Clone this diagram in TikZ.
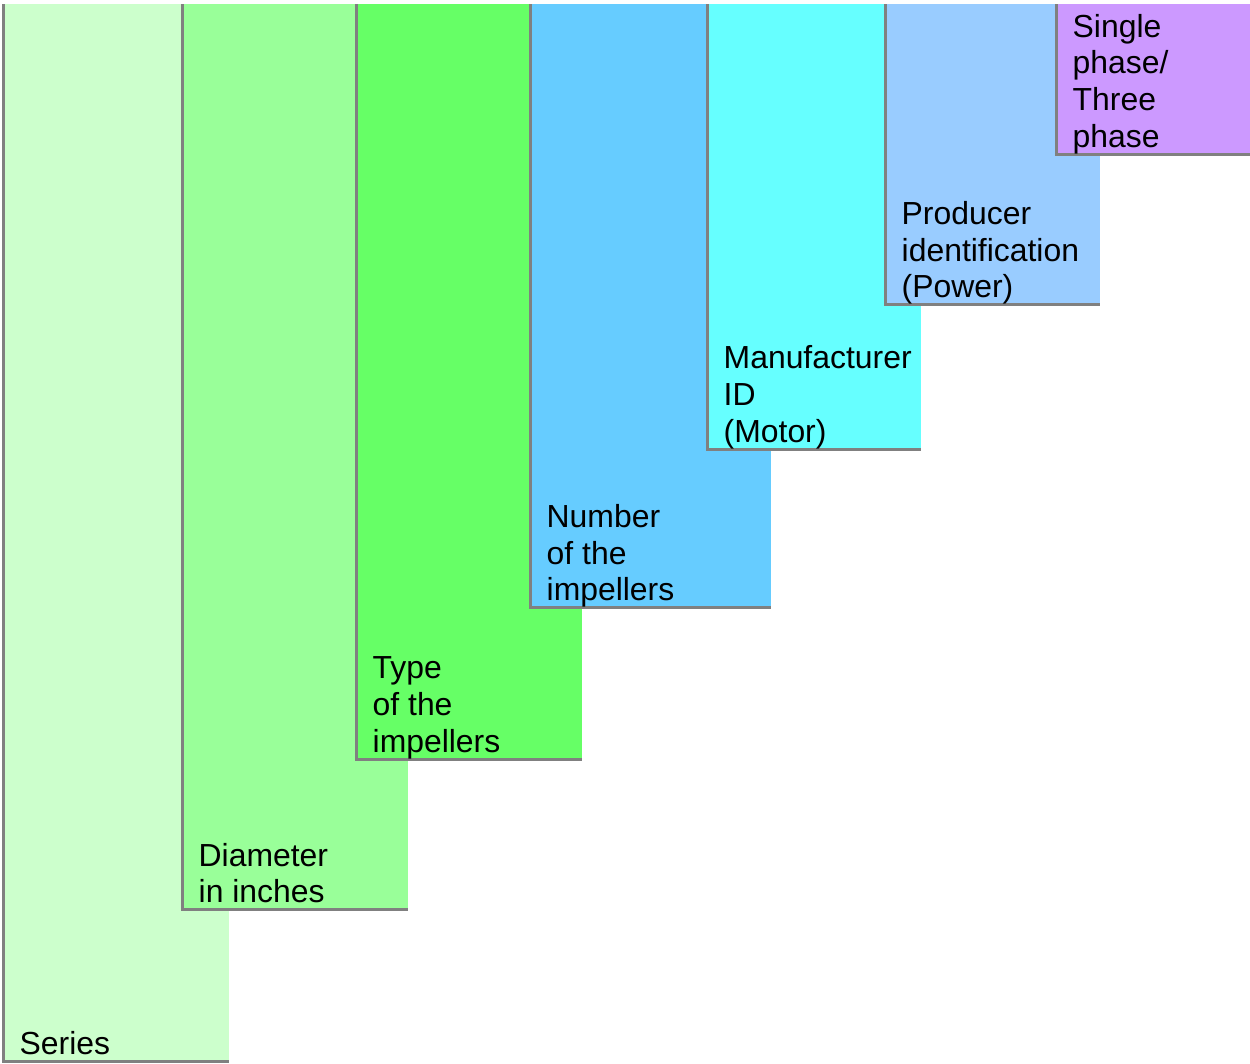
\documentclass[tikz,border=0pt]{standalone}
\usepackage{fontspec}
\setmainfont{Liberation Sans}
\definecolor{edgegray}{HTML}{808080}
\definecolor{seriesfill}{HTML}{CCFFCC}
\definecolor{diamfill}{HTML}{99FF99}
\definecolor{typefill}{HTML}{66FF66}
\definecolor{numfill}{HTML}{66CCFF}
\definecolor{makerfill}{HTML}{66FFFF}
\definecolor{prodfill}{HTML}{99CCFF}
\definecolor{phasefill}{HTML}{CC99FF}

\begin{document}
\begin{tikzpicture}[x=1pt,y=-1pt,edge/.style={draw=edgegray,line width=3pt},label/.style={anchor=south west,inner sep=0pt,align=left,text depth=0pt,font=\fontsize{31.9}{36.7}\selectfont}]
\useasboundingbox (0,0) rectangle (1250,1063);
% columns, left to right
\fill[seriesfill] (3.5,4) rectangle (229,1061);
\draw[edge] (3.5,4)--(3.5,1061)--(229,1061);
\node[label] (series) at (19.5,1054.5) {Series};
\fill[diamfill] (182.5,4) rectangle (408,909.5);
\draw[edge] (182.5,4)--(182.5,909.5)--(408,909.5);
\node[label] (diameter) at (198.5,903) {Diameter\\in inches};
\fill[typefill] (356.5,4) rectangle (582,759);
\draw[edge] (356.5,4)--(356.5,759)--(582,759);
\node[label] (type) at (372.5,752.5) {Type\\of the\\impellers};
\fill[numfill] (530.5,4) rectangle (771,607.5);
\draw[edge] (530.5,4)--(530.5,607.5)--(771,607.5);
\node[label] (number) at (546.5,601) {Number\\of the\\impellers};
\fill[makerfill] (707.5,4) rectangle (921,449);
\draw[edge] (707.5,4)--(707.5,449)--(921,449);
\node[label] (maker) at (723.5,442.5) {Manufacturer\\ID\\(Motor)};
\fill[prodfill] (885.5,4) rectangle (1100,304.5);
\draw[edge] (885.5,4)--(885.5,304.5)--(1100,304.5);
\node[label] (producer) at (901.5,298) {Producer\\identification\\(Power)};
\fill[phasefill] (1056.5,4) rectangle (1250,154);
\draw[edge] (1056.5,4)--(1056.5,154)--(1250,154);
\node[label] (phase) at (1072.5,147.5) {Single\\phase/\\Three\\phase};
\end{tikzpicture}
\end{document}
